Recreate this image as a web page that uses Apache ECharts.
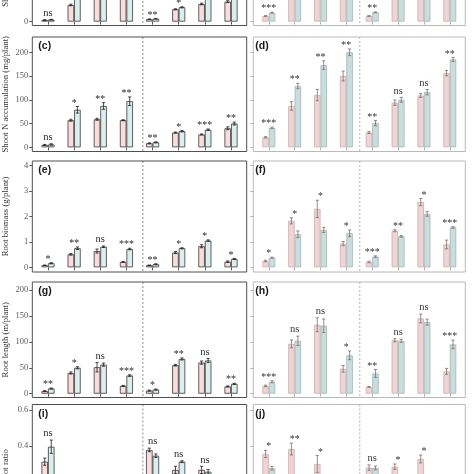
<!DOCTYPE html>
<html><head><meta charset="utf-8">
<script src="https://cdn.jsdelivr.net/npm/echarts@6/dist/echarts.min.js"></script>
<style>html,body{margin:0;padding:0;background:#fff}#c{width:474px;height:474px}</style>
</head><body><div id="c"></div>
<script>
// ---------- data ----------
const groups = ['1','2','3','4','5','6','7','8'];

// (a) Shoot biomass — only the lowest part is in view
const aPink = [0.2, 2.08, 7.5, 8.0, 0.3, 1.54, 2.2, 2.49];
const aBlue = [0.25, 5.5, 9.0, 10.0, 0.36, 1.79, 6.0, 7.0];
const aPinkErr = [0.03, 0.1, 0.3, 0.3, 0.03, 0.06, 0.1, 0.12];
const aBlueErr = [0.03, 0.2, 0.3, 0.3, 0.03, 0.06, 0.2, 0.2];
const aSig = ['ns','*','**','**','**','*','**','*'];
// (b)
const bPink = [0.7, 6.0, 8.0, 10.0, 0.7, 6.5, 8.5, 11.0];
const bBlue = [1.11, 8.0, 9.5, 11.5, 1.16, 7.5, 9.5, 12.0];
const bPinkErr = [0.05, 0.2, 0.3, 0.3, 0.05, 0.2, 0.3, 0.3];
const bBlueErr = [0.05, 0.2, 0.3, 0.3, 0.05, 0.2, 0.3, 0.3];
const bSig = ['***','**','**','**','**','*','*','**'];
const abTicks = [0, 4, 8, 12];

// (c) Shoot N accumulation
const cPink = [5, 57, 59, 57, 8.4, 31, 27, 40];
const cBlue = [6, 79, 87, 97, 10.5, 34, 37, 50];
const cPinkErr = [1, 2, 2, 1, 1, 1, 1, 3];
const cBlueErr = [1.5, 7, 7, 9, 1, 1.5, 1.5, 3];
const cSig = ['ns','*','**','**','**','*','***','**'];
// (d)
const dPink = [21, 87, 110, 150, 31, 94, 109, 156];
const dBlue = [41, 129, 173, 200, 51, 100, 116, 185];
const dPinkErr = [1.5, 9, 12, 10.5, 2, 5.6, 4, 5.6];
const dBlueErr = [1.5, 5.6, 9, 7, 5.6, 5, 5.6, 4.2];
const dSig = ['***','**','**','**','**','ns','ns','**'];
const cdTicks = [0, 50, 100, 150, 200];

// (e) Root biomass
const ePink = [0.08, 0.51, 0.64, 0.21, 0.08, 0.58, 0.83, 0.22];
const eBlue = [0.16, 0.75, 0.81, 0.72, 0.12, 0.75, 1.05, 0.33];
const ePinkErr = [0.01, 0.03, 0.08, 0.02, 0.01, 0.04, 0.06, 0.03];
const eBlueErr = [0.02, 0.05, 0.03, 0.03, 0.02, 0.02, 0.03, 0.02];
const eSig = ['*','**','ns','***','**','*','*','*'];
// (f)
const fPink = [0.25, 1.83, 2.3, 0.93, 0.21, 1.44, 2.57, 0.9];
const fBlue = [0.38, 1.30, 1.47, 1.34, 0.42, 1.22, 2.1, 1.57];
const fPinkErr = [0.03, 0.12, 0.34, 0.08, 0.03, 0.04, 0.14, 0.17];
const fBlueErr = [0.02, 0.13, 0.1, 0.13, 0.03, 0.03, 0.09, 0.03];
const fSig = ['*','*','*','*','***','**','*','***'];
const efTicks = [0, 1, 2, 3, 4];

// (g) Root length
const gPink = [5, 40, 51, 15, 6, 55, 60, 14];
const gBlue = [10, 50, 56, 35, 8, 67, 64, 19];
const gPinkErr = [1, 2, 9, 1, 1, 1.5, 3, 1];
const gBlueErr = [1, 2, 3, 1.5, 1, 2, 4, 1];
const gSig = ['**','*','ns','***','*','**','ns','**'];
// (h)
const hPink = [15, 96, 133, 48, 13, 103, 145, 43];
const hBlue = [23, 102, 131, 74, 39, 102, 138, 95];
const hPinkErr = [1.5, 7.7, 13.5, 6.4, 1, 3, 8.4, 5.8];
const hBlueErr = [2, 9, 13, 8.4, 7.7, 3, 5.8, 8.4];
const hSig = ['***','ns','ns','*','**','ns','ns','***'];
const ghTicks = [0, 50, 100, 150, 200];

// (i) Root:shoot ratio
const iPink = [0.313, 0.15, 0.16, 0.12, 0.378, 0.267, 0.267, 0.17];
const iBlue = [0.396, 0.17, 0.14, 0.16, 0.346, 0.313, 0.257, 0.18];
const iPinkErr = [0.02, 0.02, 0.02, 0.02, 0.01, 0.02, 0.02, 0.01];
const iBlueErr = [0.037, 0.02, 0.02, 0.02, 0.01, 0.005, 0.012, 0.01];
const iSig = ['ns','ns','ns','ns','ns','ns','ns','ns'];
// (j)
const jPink = [0.356, 0.383, 0.3, 0.17, 0.28, 0.285, 0.328, 0.16];
const jBlue = [0.276, 0.2, 0.18, 0.15, 0.278, 0.22, 0.2, 0.17];
const jPinkErr = [0.02, 0.033, 0.047, 0.02, 0.015, 0.015, 0.022, 0.02];
const jBlueErr = [0.01, 0.02, 0.02, 0.02, 0.01, 0.02, 0.02, 0.02];
const jSig = ['*','**','*','ns','ns','*','*','ns'];
const ijTicks = [0, 0.2, 0.4, 0.6];

const yNames = ['Shoot biomass (g/plant)', 'Shoot N accumulation (mg/plant)', 'Root biomass (g/plant)', 'Root length (m/plant)', 'Root:shoot ratio'];

// ---------- layout / style ----------
const SIDE = [
  {x:32.3, w:214.4, frame:'#4f4f4f', tick:'#555', pinkFill:'#f9dcdb', blueFill:'#dbeeee', pinkLine:'#3a3a3a', blueLine:'#3a3a3a', err:'#1e1e1e', dash:'#707070', dashFrac:0.63, letterDx:6, sig:'#2a2a2a'},
  {x:253.3, w:212, frame:'#b9b9b9', tick:'#b0b0b0', pinkFill:'#eed4d4', blueFill:'#cadcdc', pinkLine:'#cdadad', blueLine:'#a2b5b5', err:'#7f6f6f', dash:'#a0a0a0', dashFrac:0.52, letterDx:2, sig:'#333'}
];
const ROWS = [
  {top:-95, bottom:25.5, min:-0.4875, max:14.575},
  {top:37, bottom:151.5, min:-8.84, max:232.2},
  {top:161, bottom:272, min:-0.185, max:4.185},
  {top:282, bottom:397.5, min:-7.33, max:215.4},
  {top:404.5, bottom:550, min:-0.178, max:0.6306}
];

const PANELS = [
  {id:'(a)', col:0, row:0, pink:aPink, blue:aBlue, pe:aPinkErr, be:aBlueErr, sig:aSig, ticks:abTicks},
  {id:'(b)', col:1, row:0, pink:bPink, blue:bBlue, pe:bPinkErr, be:bBlueErr, sig:bSig, ticks:abTicks},
  {id:'(c)', col:0, row:1, pink:cPink, blue:cBlue, pe:cPinkErr, be:cBlueErr, sig:cSig, ticks:cdTicks},
  {id:'(d)', col:1, row:1, pink:dPink, blue:dBlue, pe:dPinkErr, be:dBlueErr, sig:dSig, ticks:cdTicks},
  {id:'(e)', col:0, row:2, pink:ePink, blue:eBlue, pe:ePinkErr, be:eBlueErr, sig:eSig, ticks:efTicks},
  {id:'(f)', col:1, row:2, pink:fPink, blue:fBlue, pe:fPinkErr, be:fBlueErr, sig:fSig, ticks:efTicks},
  {id:'(g)', col:0, row:3, pink:gPink, blue:gBlue, pe:gPinkErr, be:gBlueErr, sig:gSig, ticks:ghTicks},
  {id:'(h)', col:1, row:3, pink:hPink, blue:hBlue, pe:hPinkErr, be:hBlueErr, sig:hSig, ticks:ghTicks},
  {id:'(i)', col:0, row:4, pink:iPink, blue:iBlue, pe:iPinkErr, be:iBlueErr, sig:iSig, ticks:ijTicks},
  {id:'(j)', col:1, row:4, pink:jPink, blue:jBlue, pe:jPinkErr, be:jBlueErr, sig:jSig, ticks:ijTicks}
];

const chart = echarts.init(document.getElementById('c'), null, {renderer:'canvas', width:474, height:474});
const grid = [], xAxis = [], yAxis = [], series = [], graphic = [];

PANELS.forEach((p, k) => {
  const s = SIDE[p.col], r = ROWS[p.row];
  const unit = s.w / 8.2;
  grid.push({left: s.x + 0.1 * unit, width: 8 * unit, top: r.top, height: r.bottom - r.top,
    show:false, containLabel:false, outerBoundsMode:'none'});
  xAxis.push({gridIndex:k, type:'category', data:groups, boundaryGap:true,
    axisLine:{show:false}, splitLine:{show:false},
    axisTick:{show:true, alignWithLabel:true, interval:0, length:3, lineStyle:{color:s.tick, width:1}},
    axisLabel:{show:false, interval:0}});
  yAxis.push({gridIndex:k, type:'value', min:r.min, max:r.max, offset: 0.1 * unit,
    axisLine:{show:false}, splitLine:{show:false},
    axisTick:{show:true, length:3, customValues:p.ticks, lineStyle:{color:s.tick, width:1}},
    axisLabel:{show:p.col === 0, customValues:p.ticks, margin:4, color:'#5a5a5a', fontFamily:'Liberation Serif', fontSize:8.5},
    name: p.col === 0 ? yNames[p.row] : '', nameLocation:'middle', nameGap:22,
    nameTextStyle:{fontFamily:'Liberation Serif', fontSize:8.7, color:'#333'}});
  series.push({type:'bar', xAxisIndex:k, yAxisIndex:k, data:p.pink, barWidth:'25%', barGap:'0%',
    itemStyle:{color:s.pinkFill, borderColor:s.pinkLine, borderWidth:0.8}, silent:true, animation:false});
  series.push({type:'bar', xAxisIndex:k, yAxisIndex:k, data:p.blue, barWidth:'25%', barGap:'0%',
    itemStyle:{color:s.blueFill, borderColor:s.blueLine, borderWidth:0.8}, silent:true, animation:false});
  series.push({type:'custom', xAxisIndex:k, yAxisIndex:k, silent:true, animation:false, clip:false, z:5,
    data: groups.map((g, i) => [i, p.pink[i], p.blue[i], p.pe[i], p.be[i]]),
    renderItem: (params, api) => {
      const i = api.value(0);
      const band = api.size([1, 0])[0];
      const bw = band * 0.25;
      const cx = api.coord([i, 0])[0];
      const children = [];
      let topY = Infinity;
      [[api.value(1), api.value(3), cx - bw / 2], [api.value(2), api.value(4), cx + bw / 2]].forEach(([v, e, x]) => {
        const y1 = api.coord([i, v + e])[1], y0 = api.coord([i, v - e])[1];
        topY = Math.min(topY, y1);
        const st = {stroke:s.err, lineWidth:0.8};
        children.push({type:'line', shape:{x1:x, y1:y0, x2:x, y2:y1}, style:st});
        children.push({type:'line', shape:{x1:x - 1.6, y1:y1, x2:x + 1.6, y2:y1}, style:st});
        children.push({type:'line', shape:{x1:x - 1.6, y1:y0, x2:x + 1.6, y2:y0}, style:st});
      });
      const t = p.sig[i];
      children.push({type:'text', x:cx, y: topY - (t === 'ns' ? 6.5 : 3.5),
        style:{text:t, fill:s.sig, fontFamily:'Liberation Serif', fontSize: t === 'ns' ? 10.5 : 10, align:'center', verticalAlign:'middle'}});
      if (i === 0) {
        const cs = params.coordSys;
        const x3 = api.coord([3, 0])[0], x4 = api.coord([4, 0])[0];
        const xd = x3 + s.dashFrac * (x4 - x3);
        children.push({type:'line', shape:{x1:xd, y1:cs.y, x2:xd, y2:cs.y + cs.height},
          style:{stroke:s.dash, lineWidth:0.8, lineDash:[2, 2]}});
      }
      return {type:'group', children};
    }});
  graphic.push({type:'rect', silent:true, z:100,
    shape:{x:s.x, y:r.top, width:s.w, height:r.bottom - r.top},
    style:{fill:'none', stroke:s.frame, lineWidth:1}});
  graphic.push({type:'text', silent:true, z:100, x:s.x + s.letterDx, y:r.top + 4,
    style:{text:p.id, fill:'#1a1a1a', font:'bold 10.5px "Liberation Sans"', align:'left', verticalAlign:'top'}});
});

chart.setOption({animation:false, backgroundColor:'#fff', grid, xAxis, yAxis, series, graphic});
</script></body></html>
